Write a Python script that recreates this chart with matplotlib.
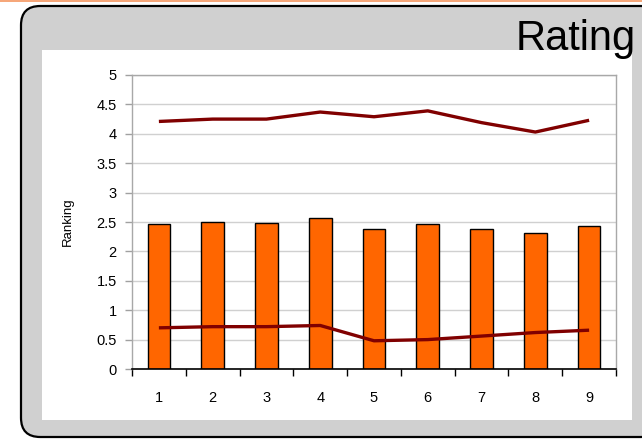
import matplotlib
matplotlib.use("Agg")
import matplotlib.pyplot as plt
from matplotlib.patches import FancyBboxPatch, Rectangle
import numpy as np

categories = ["1", "2", "3", "4", "5", "6", "7", "8", "9"]
bar_values = [2.47, 2.50, 2.48, 2.56, 2.38, 2.46, 2.38, 2.32, 2.44]
high_line = [4.21, 4.25, 4.25, 4.37, 4.29, 4.39, 4.19, 4.03, 4.23]
low_line = [0.70, 0.72, 0.72, 0.74, 0.48, 0.50, 0.56, 0.62, 0.66]
yticks = [0, 0.5, 1, 1.5, 2, 2.5, 3, 3.5, 4, 4.5, 5]
ytick_labels = ["0", "0.5", "1", "1.5", "2", "2.5", "3", "3.5", "4", "4.5", "5"]

plt.rcParams['font.family'] = ['Liberation Sans', 'DejaVu Sans']

W, H = 642, 440
fig = plt.figure(figsize=(W / 100, H / 100), dpi=100)
fig.patch.set_facecolor('white')

def fx(x):
    return x / W

def fy(y):
    return 1 - y / H

# top orange strip
fig.patches.append(Rectangle((0, fy(2.5)), 1, 2.5 / H, transform=fig.transFigure,
                             facecolor='#F6A77A', edgecolor='none', zorder=0))
# grey rounded panel
panel = FancyBboxPatch((fx(21), fy(437)), fx(660 - 21), (437 - 6) / H,
                       boxstyle="round,pad=0,rounding_size=0.03",
                       transform=fig.transFigure, facecolor='#D0D0D0',
                       edgecolor='black', linewidth=1.6, zorder=0,
                       mutation_aspect=W / H)
fig.patches.append(panel)
# inner white area
fig.patches.append(Rectangle((fx(42), fy(420)), fx(632 - 42), (420 - 50) / H,
                             transform=fig.transFigure, facecolor='white',
                             edgecolor='none', zorder=1))

fig.text(fx(636), fy(50), "Rating", ha='right', va='baseline', fontsize=30,
         color='black', zorder=5)

ax = fig.add_axes([fx(132), fy(369), fx(616 - 132), (369 - 75) / H])
ax.set_zorder(3)
ax.set_facecolor('white')

x = np.arange(len(categories))
ax.bar(x, bar_values, width=0.42, color='#FF6600', edgecolor='black',
       linewidth=1.0, zorder=2)
ax.plot(x, high_line, color='#800000', linewidth=2.4, zorder=3,
        solid_capstyle='butt')
ax.plot(x, low_line, color='#800000', linewidth=2.4, zorder=3,
        solid_capstyle='butt')

ax.set_xlim(-0.5, len(categories) - 0.5)
ax.set_ylim(0, 5)
ax.set_yticks(yticks)
ax.set_yticklabels(ytick_labels, fontsize=10.5)
ax.set_xticks(x)
ax.set_xticklabels(categories, fontsize=10.5)
ax.set_xticks(np.arange(-0.5, len(categories)), minor=True)
ax.tick_params(axis='x', which='major', length=0, pad=16)
ax.tick_params(axis='x', which='minor', length=5, width=1, color='black',
               direction='out')
ax.tick_params(axis='y', length=5, width=1, color='#A0A0A0', direction='out',
               pad=6)

ax.yaxis.grid(True, color='#D0D0D0', linewidth=1)
ax.set_axisbelow(True)

for s in ['top', 'right', 'left']:
    ax.spines[s].set_color('#A8A8A8')
    ax.spines[s].set_linewidth(1)
ax.spines['bottom'].set_color('black')
ax.spines['bottom'].set_linewidth(1.2)

ax.set_ylabel("Ranking", fontsize=9.5, labelpad=16)

fig.savefig("out.png", dpi=100)
